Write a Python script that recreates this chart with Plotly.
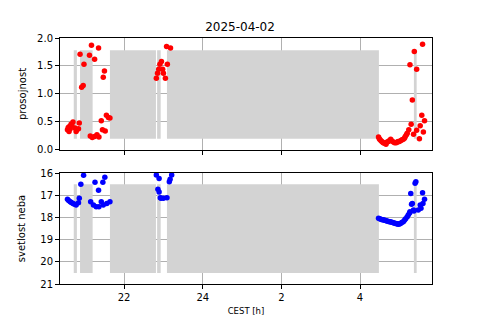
import plotly.graph_objects as go

# ---- data ----
title_text = "2025-04-02"
tick_vals = [22, 24, 26, 28]
tick_text = ["22", "24", "2", "4"]

# gray (masked) intervals in hours
gray_start = [20.72, 20.88, 21.64, 22.84, 23.09, 29.37]
gray_end = [20.80, 21.20, 22.81, 22.93, 28.48, 29.44]
gray_top_lo, gray_top_hi = 0.2, 1.78
gray_bot_lo, gray_bot_hi = 16.5, 20.5

# transparency (top panel)
t_top = [20.56, 20.58, 20.60, 20.61, 20.63, 20.65, 20.67, 20.70, 20.75, 20.78, 20.80,
         20.84, 20.86, 20.88, 20.92, 20.96, 20.98, 21.12, 21.14, 21.17, 21.19, 21.25,
         21.25, 21.31, 21.35, 21.36, 21.42, 21.45, 21.47, 21.50, 21.52, 21.55, 21.60,
         21.64, 22.82, 22.85, 22.88, 22.91, 22.95, 22.98, 23.00, 23.05, 23.08, 23.10, 23.18,
         28.47, 28.49, 28.51, 28.54, 28.57, 28.59, 28.62, 28.66, 28.69, 28.72, 28.75,
         28.78, 28.81, 28.85, 28.88, 28.92, 28.95, 28.97, 29.00, 29.04, 29.07, 29.10,
         29.13, 29.15, 29.18, 29.20, 29.24, 29.27, 29.30, 29.33, 29.36, 29.38, 29.44,
         29.44, 29.51, 29.53, 29.57, 29.59, 29.61, 29.64]
v_top = [0.36, 0.40, 0.33, 0.42, 0.38, 0.46, 0.44, 0.50, 0.39, 0.33, 0.36,
         0.38, 0.48, 1.71, 1.12, 1.15, 1.53, 1.69, 0.25, 1.87, 0.22, 1.62,
         0.24, 0.27, 1.82, 0.23, 0.52, 0.36, 1.30, 1.41, 0.34, 0.62, 0.58,
         0.57, 1.28, 1.37, 1.44, 1.53, 1.58, 1.44, 1.37, 1.28, 1.85, 1.53, 1.82,
         0.23, 0.20, 0.18, 0.16, 0.14, 0.13, 0.12, 0.10, 0.14, 0.15, 0.17,
         0.19, 0.16, 0.14, 0.13, 0.13, 0.14, 0.15, 0.15, 0.17, 0.18, 0.19,
         0.21, 0.24, 0.27, 0.30, 0.36, 1.52, 0.46, 0.89, 0.28, 1.76, 1.44,
         0.35, 0.20, 0.43, 0.62, 1.89, 0.32, 0.52]

# sky brightness (bottom panel)
t_bot = [20.56, 20.59, 20.63, 20.66, 20.70, 20.74, 20.78, 20.84, 20.86, 20.90, 20.97,
         21.15, 21.22, 21.26, 21.29, 21.35, 21.36, 21.42, 21.46, 21.47, 21.51, 21.56, 21.64,
         22.82, 22.86, 22.89, 22.89, 22.92, 22.94, 23.00, 23.09, 23.15, 23.17, 23.21,
         28.47, 28.50, 28.53, 28.56, 28.59, 28.62, 28.65, 28.68, 28.71, 28.74, 28.77,
         28.80, 28.83, 28.86, 28.89, 28.92, 28.95, 28.97, 29.00, 29.03, 29.06, 29.10,
         29.13, 29.16, 29.20, 29.23, 29.26, 29.27, 29.29, 29.31, 29.33, 29.36, 29.37,
         29.40, 29.42, 29.48, 29.53, 29.55, 29.59, 29.60, 29.64]
v_bot = [17.18, 17.24, 17.29, 17.33, 17.37, 17.41, 17.44, 17.34, 17.14, 16.51, 16.10,
         17.29, 17.44, 16.42, 17.52, 16.77, 17.52, 17.29, 16.42, 17.44, 16.19, 17.37, 17.29,
         16.09, 16.73, 16.24, 16.85, 17.11, 17.14, 17.14, 17.11, 16.39, 16.28, 16.09,
         18.04, 18.06, 18.08, 18.10, 18.11, 18.13, 18.14, 18.16, 18.17, 18.19, 18.20,
         18.22, 18.23, 18.25, 18.26, 18.28, 18.29, 18.31, 18.30, 18.27, 18.23, 18.19,
         18.13, 18.06, 17.97, 17.88, 17.80, 17.74, 16.92, 17.41, 17.37, 17.67, 17.71,
         16.46, 16.39, 17.67, 17.44, 17.59, 16.89, 17.37, 17.18]


def gray_poly(lo, hi):
    xs, ys = [], []
    for a, b in zip(gray_start, gray_end):
        xs += [a, a, b, b, a, None]
        ys += [lo, hi, hi, lo, lo, None]
    return xs, ys


fig = go.Figure()
gx, gy = gray_poly(gray_top_lo, gray_top_hi)
fig.add_trace(go.Scatter(x=gx, y=gy, fill="toself", fillcolor="#d3d3d3", mode="none",
                         hoverinfo="skip", showlegend=False, xaxis="x", yaxis="y"))
gx, gy = gray_poly(gray_bot_lo, gray_bot_hi)
fig.add_trace(go.Scatter(x=gx, y=gy, fill="toself", fillcolor="#d3d3d3", mode="none",
                         hoverinfo="skip", showlegend=False, xaxis="x2", yaxis="y2"))
fig.add_trace(go.Scatter(x=t_top, y=v_top, mode="markers", marker=dict(color="#ff0000", size=5.5),
                         showlegend=False, xaxis="x", yaxis="y"))
fig.add_trace(go.Scatter(x=t_bot, y=v_bot, mode="markers", marker=dict(color="#0000ff", size=5.5),
                         showlegend=False, xaxis="x2", yaxis="y2"))

font = dict(family="DejaVu Sans", size=10, color="black")
xcommon = dict(range=[20.37, 29.83], tickvals=tick_vals, ticktext=tick_text,
               showgrid=True, gridcolor="#b0b0b0", gridwidth=1, ticks="outside",
               ticklen=4, tickcolor="black", showline=True, linecolor="black",
               linewidth=1, mirror=True, zeroline=False, tickfont=font, automargin=False)
ycommon = dict(showgrid=True, gridcolor="#b0b0b0", gridwidth=1, ticks="outside",
               ticklen=4, tickcolor="black", showline=True, linecolor="black",
               linewidth=1, mirror=True, zeroline=False, tickfont=font, automargin=False)

fig.update_layout(
    width=480, height=320,
    margin=dict(l=60, r=48, t=38, b=36, autoexpand=False),
    paper_bgcolor="white", plot_bgcolor="white",
    font=font,
    title=dict(text=title_text, x=0.5, xanchor="center", y=0.915, yanchor="middle",
               font=dict(family="DejaVu Sans", size=12, color="black"), automargin=False),
    xaxis=dict(domain=[0, 1], anchor="y", showticklabels=False, **xcommon),
    yaxis=dict(domain=[0.545, 1], anchor="x", range=[0, 2], tickvals=[0, 0.5, 1, 1.5, 2],
               ticktext=["0.0", "0.5", "1.0", "1.5", "2.0"],
               title=dict(text="prosojnost", font=font, standoff=8), **ycommon),
    xaxis2=dict(domain=[0, 1], anchor="y2",
                title=dict(text="CEST [h]", font=dict(family="DejaVu Sans", size=8.5, color="black"), standoff=6),
                **xcommon),
    yaxis2=dict(domain=[0, 0.451], anchor="x2", range=[21, 16], tickvals=[16, 17, 18, 19, 20, 21],
                title=dict(text="svetlost neba", font=font, standoff=12), **ycommon),
)

fig.write_html("out.html", config={"displayModeBar": False},
               post_script="document.body.style.margin='0';document.body.style.overflow='hidden';")
